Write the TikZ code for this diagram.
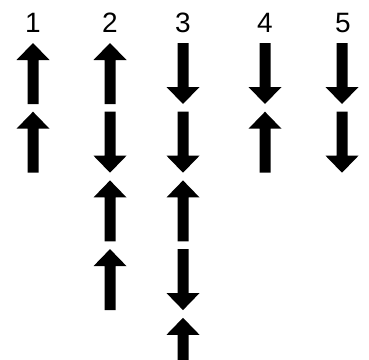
\documentclass[tikz,border=0pt]{standalone}
\usepackage{fontspec}
\setmainfont{Liberation Sans}
\begin{document}
\begin{tikzpicture}[x=1pt,y=-1pt,
  lab/.style={font=\fontsize{28}{28}\selectfont, anchor=base, inner sep=0pt},
  arr/.style={fill=black, draw=none}]
\useasboundingbox (0,0) rectangle (369,359);
\clip (0,0) rectangle (369,359);
% up arrow: x, top
\newcommand\myup[2]{\fill[arr] (#1-5.5,#2+61) -- (#1+5.5,#2+61) -- (#1+5.5,#2+17) -- (#1+16.5,#2+17) -- (#1,#2) -- (#1-16.5,#2+17) -- (#1-5.5,#2+17) -- cycle;}
\newcommand\mydown[2]{\fill[arr] (#1-5.5,#2) -- (#1+5.5,#2) -- (#1+5.5,#2+44) -- (#1+16.5,#2+44) -- (#1,#2+61) -- (#1-16.5,#2+44) -- (#1-5.5,#2+44) -- cycle;}
\node[lab] (n1) at (33,32) {1};
\node[lab] (n2) at (110,32) {2};
\node[lab] (n3) at (183,32) {3};
\node[lab] (n4) at (265,32) {4};
\node[lab] (n5) at (343,32) {5};
% column 1
\myup{33}{43}
\myup{33}{111.7}
% column 2
\myup{110}{43}
\mydown{110}{111.7}
\myup{110}{180.4}
\myup{110}{249.1}
% column 3
\mydown{183}{43}
\mydown{183}{111.7}
\myup{183}{180.4}
\mydown{183}{249.1}
\myup{183}{317.8}
% column 4
\mydown{265}{43}
\myup{265}{111.7}
% column 5
\mydown{342}{43}
\mydown{342}{111.7}
\end{tikzpicture}
\end{document}
